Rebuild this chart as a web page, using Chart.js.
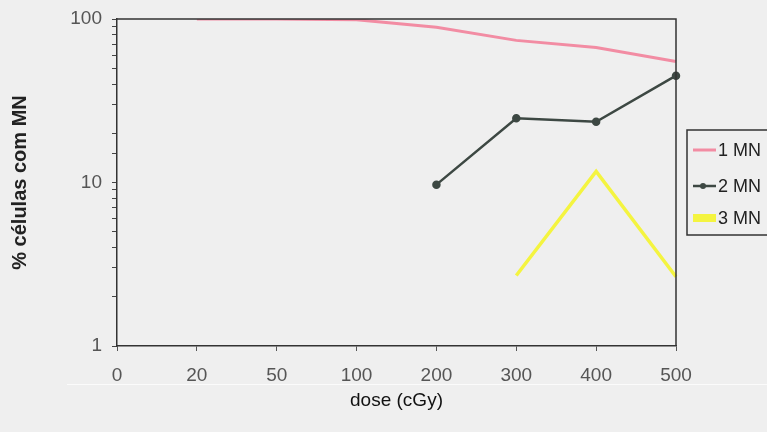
<!DOCTYPE html>
<html lang="pt">
<head>
  <meta charset="UTF-8" />
  <title>% células com MN</title>
  <script src="https://cdn.jsdelivr.net/npm/chart.js"></script>
  <style>
    body {
      margin: 0;
      background: #efefef;
      font-family: "Liberation Sans", Arial, sans-serif;
    }
    .container {
      width: 767px;
      height: 432px;
      position: relative;
    }
  </style>
</head>
<body>
  <div class="container">
    <canvas id="chart"></canvas>
  </div>

  <script>
    const doses = ['0', '20', '50', '100', '200', '300', '400', '500'];
    const mn1 = [null, 100, 100, 99, 89, 74, 67, 55];
    const mn2 = [null, null, null, null, 9.7, 24.7, 23.5, 45];
    const mn3 = [null, null, null, null, null, 2.7, 11.7, 2.65];
    const yLabels = [1, 10, 100];

    const colors = { mn1: '#f28ca3', mn2: '#3d4843', mn3: '#f4f440' };
    const FONT = '"Liberation Sans", Arial, sans-serif';

    // box round the plot and the legend on the right
    const frame = {
      id: 'frame',
      afterDraw(chart) {
        const { ctx, chartArea: a } = chart;
        ctx.save();
        ctx.strokeStyle = '#333';
        ctx.lineWidth = 1.5;
        ctx.beginPath();
        ctx.moveTo(a.left, a.top);
        ctx.lineTo(a.right, a.top);
        ctx.lineTo(a.right, a.bottom);
        ctx.stroke();

        // scan seam under the tick labels
        ctx.strokeStyle = '#fbfbfb';
        ctx.lineWidth = 1;
        ctx.beginPath();
        ctx.moveTo(67, 384.5);
        ctx.lineTo(767, 384.5);
        ctx.stroke();

        // legend
        ctx.strokeStyle = '#333';
        ctx.lineWidth = 1.5;
        ctx.strokeRect(687, 130, 100, 105);
        const items = [
          { text: '1 MN', color: colors.mn1, w: 3, y: 150, dot: false },
          { text: '2 MN', color: colors.mn2, w: 2.5, y: 186, dot: true },
          { text: '3 MN', color: colors.mn3, w: 8, y: 218, dot: false }
        ];
        ctx.font = '18px ' + FONT;
        ctx.textBaseline = 'middle';
        items.forEach(it => {
          ctx.strokeStyle = it.color;
          ctx.lineWidth = it.w;
          ctx.beginPath();
          ctx.moveTo(693, it.y);
          ctx.lineTo(716, it.y);
          ctx.stroke();
          if (it.dot) {
            ctx.fillStyle = it.color;
            ctx.beginPath();
            ctx.arc(703, it.y, 3, 0, Math.PI * 2);
            ctx.fill();
          }
          ctx.fillStyle = '#222';
          ctx.fillText(it.text, 718, it.y + 1);
        });
        ctx.restore();
      }
    };

    const ctx = document.getElementById('chart').getContext('2d');
    new Chart(ctx, {
      type: 'line',
      data: {
        labels: doses,
        datasets: [
          {
            label: '1 MN',
            data: mn1,
            borderColor: colors.mn1,
            borderWidth: 3,
            pointRadius: 0,
            tension: 0
          },
          {
            label: '2 MN',
            data: mn2,
            borderColor: colors.mn2,
            backgroundColor: colors.mn2,
            borderWidth: 2.5,
            pointRadius: 3,
            tension: 0
          },
          {
            label: '3 MN',
            data: mn3,
            borderColor: colors.mn3,
            borderWidth: 3.5,
            pointRadius: 0,
            tension: 0
          }
        ]
      },
      options: {
        responsive: true,
        maintainAspectRatio: false,
        animation: false,
        layout: { padding: { top: 19, right: 91, bottom: 20, left: 0 } },
        plugins: {
          legend: { display: false },
          tooltip: { enabled: false }
        },
        scales: {
          x: {
            type: 'category',
            offset: false,
            grid: { drawOnChartArea: false, color: '#555', tickLength: 5 },
            border: { color: '#333', width: 1.5 },
            ticks: {
              color: '#555',
              padding: 13,
              font: { size: 19, family: FONT }
            },
            title: {
              display: true,
              text: 'dose (cGy)',
              color: '#111',
              font: { size: 19, family: FONT },
              padding: { top: 4, bottom: 0 }
            },
            afterFit(scale) { scale.height = 66; }
          },
          y: {
            type: 'logarithmic',
            min: 1,
            max: 100,
            grid: { drawOnChartArea: false, color: '#444', tickLength: 5 },
            border: { color: '#333', width: 1.5 },
            ticks: {
              autoSkip: false,
              color: '#555',
              padding: 10,
              font: { size: 19, family: FONT },
              callback: v => (yLabels.includes(v) ? String(v) : '')
            },
            title: {
              display: true,
              text: '% células com MN',
              color: '#222',
              font: { size: 20, weight: 'bold', family: FONT },
              padding: { top: 8, bottom: 0 }
            },
            afterFit(scale) {
              scale.width = 117;
              scale.paddingTop = 0;
              scale.paddingBottom = 0;
            }
          }
        }
      },
      plugins: [frame]
    });
  </script>
</body>
</html>
